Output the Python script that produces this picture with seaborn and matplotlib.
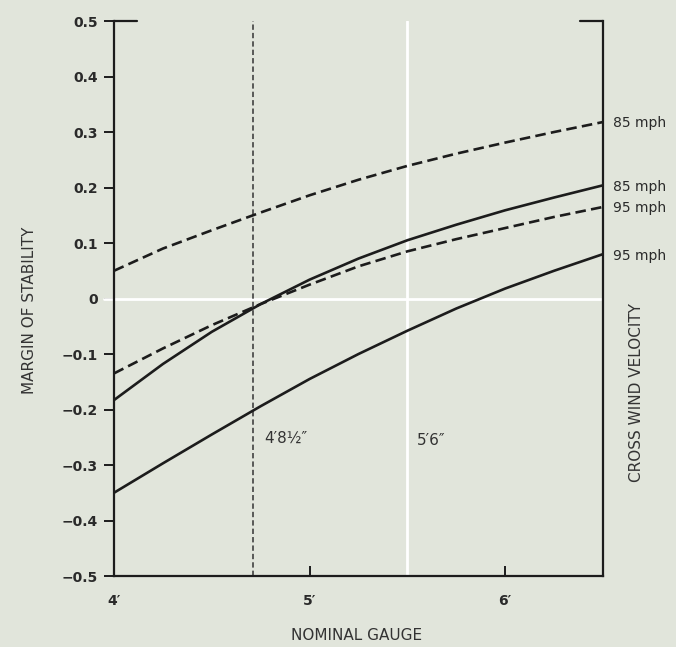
import numpy as np
import pandas as pd
import matplotlib
matplotlib.use("Agg")
import matplotlib.pyplot as plt
import seaborn as sns

# Valores (bitola nominal em pés)
gauge_ft = [4.0, 4.25, 4.5, 4.75, 5.0, 5.25, 5.5, 5.75, 6.0, 6.25, 6.5]

# Margem de estabilidade por curva
dashed_85 = [0.050, 0.090, 0.123, 0.155, 0.186, 0.214, 0.239, 0.261, 0.281, 0.300, 0.318]
solid_85 = [-0.183, -0.118, -0.060, -0.010, 0.034, 0.072, 0.105, 0.133, 0.159, 0.182, 0.204]
dashed_95 = [-0.135, -0.090, -0.048, -0.010, 0.025, 0.058, 0.085, 0.107, 0.127, 0.147, 0.165]
solid_95 = [-0.350, -0.297, -0.245, -0.194, -0.145, -0.100, -0.058, -0.018, 0.018, 0.050, 0.080]

curve_names = ["85 mph", "85 mph", "95 mph", "95 mph"]
curve_kinds = ["dashed", "solid", "dashed", "solid"]

y_ticks = [0.5, 0.4, 0.3, 0.2, 0.1, 0.0, -0.1, -0.2, -0.3, -0.4, -0.5]
x_ticks = [4, 5, 6]
x_tick_labels = ["4\u2032", "5\u2032", "6\u2032"]

standard_gauge = 4 + 8.5 / 12   # 4'8½"
broad_gauge = 5.5                # 5'6"

BG = "#e1e5db"
INK = "#1c1c1c"


def montar_dados():
    """Monta o DataFrame longo com todas as curvas."""
    series = [dashed_85, solid_85, dashed_95, solid_95]
    partes = []
    for i, (vals, kind, name) in enumerate(zip(series, curve_kinds, curve_names)):
        partes.append(pd.DataFrame({
            "gauge": gauge_ft,
            "margin": vals,
            "curve": i,
            "kind": kind,
            "name": name,
        }))
    return pd.concat(partes, ignore_index=True)


def y_label_fmt(v):
    if abs(v) < 1e-9:
        return "0"
    return f"{v:.1f}".replace("-", "\u2212")


def main():
    sns.set_style("ticks", {"axes.facecolor": BG, "figure.facecolor": BG})
    plt.rcParams["font.family"] = ["DejaVu Sans"]

    df = montar_dados()

    fig = plt.figure(figsize=(6.76, 6.47), dpi=100)
    ax = fig.add_axes([0.1686, 0.1097, 0.7234, 0.8578])

    # linhas de referência brancas (bitola 5'6" e margem zero)
    ax.axvline(broad_gauge, color="white", lw=2, zorder=1)
    ax.axhline(0, xmin=-0.02, xmax=0.995, color="white", lw=2, zorder=1, clip_on=False)

    # bitola padrão 4'8½" (tracejado fino)
    ax.axvline(standard_gauge, color="#333333", lw=1.1, ls=(0, (3.5, 2)), zorder=2)

    sns.lineplot(data=df, x="gauge", y="margin", units="curve", estimator=None,
                 style="kind", dashes={"solid": "", "dashed": (4, 2)},
                 color=INK, lw=1.9, legend=False, ax=ax, zorder=3)

    ax.set_xlim(4, 6.5)
    ax.set_ylim(-0.5, 0.5)

    ax.set_yticks(y_ticks)
    ax.set_yticklabels([y_label_fmt(v) for v in y_ticks])
    ax.set_xticks(x_ticks)
    ax.set_xticklabels(x_tick_labels)

    ax.tick_params(axis="y", direction="out", length=7, width=1.4, pad=4.5,
                   labelsize=10, colors=INK)
    ax.tick_params(axis="x", direction="in", length=7, width=1.4, pad=13,
                   labelsize=10, colors=INK)
    for lab in ax.get_yticklabels() + ax.get_xticklabels():
        lab.set_fontweight("bold")
        lab.set_color("#2a2a2a")

    for side in ["left", "bottom", "right"]:
        ax.spines[side].set_linewidth(1.6)
        ax.spines[side].set_color(INK)
    ax.spines["top"].set_visible(False)

    # pequenos colchetes no topo
    ax.plot([0, 0.047], [1, 1], transform=ax.transAxes, color=INK, lw=1.6, clip_on=False)
    ax.plot([0.953, 1], [1, 1], transform=ax.transAxes, color=INK, lw=1.6, clip_on=False)

    # rótulos de velocidade no fim de cada curva
    series = [dashed_85, solid_85, dashed_95, solid_95]
    for vals, name in zip(series, curve_names):
        ax.annotate(name, xy=(gauge_ft[-1], vals[-1]), xytext=(7, -1),
                    textcoords="offset points", va="center", ha="left",
                    fontsize=10, color="#2a2a2a", annotation_clip=False)

    ax.text(standard_gauge + 0.06, -0.252, "4\u20328\u00bd\u2033", fontsize=11,
            color="#333333", va="center", ha="left")
    ax.text(broad_gauge + 0.05, -0.255, "5\u20326\u2033", fontsize=11,
            color="#333333", va="center", ha="left")

    ax.set_xlabel("")
    ax.set_ylabel("")
    fig.text(0.528, 0.018, "NOMINAL GAUGE", fontsize=11, color="#333333",
             ha="center", va="center")
    fig.text(0.043, 0.521, "MARGIN OF STABILITY", fontsize=11, color="#333333",
             ha="center", va="center", rotation=90)
    fig.text(0.941, 0.393, "CROSS WIND VELOCITY", fontsize=11, color="#333333",
             ha="center", va="center", rotation=90)

    fig.savefig("out.png", dpi=100, facecolor=BG)
    plt.close(fig)


if __name__ == "__main__":
    main()
